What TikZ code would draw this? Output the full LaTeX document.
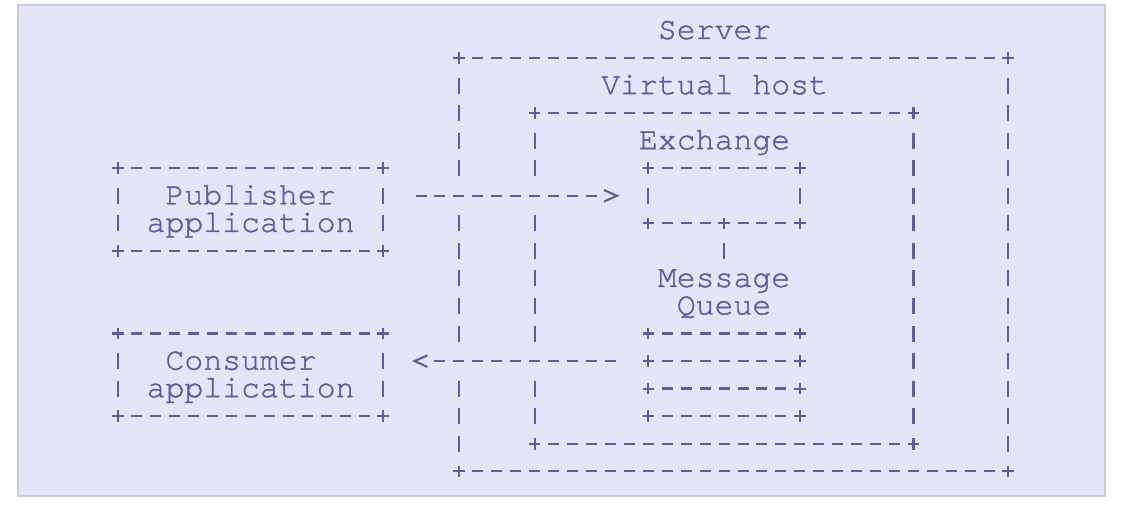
\documentclass[tikz,border=0pt]{standalone}
\usepackage{fontspec}
\newfontfamily\curfont[FakeBold=1.2]{TeX Gyre Cursor}
\usetikzlibrary{calc}
\definecolor{ink}{RGB}{92,92,165}
\definecolor{panel}{RGB}{229,229,250}
\definecolor{panelrule}{RGB}{205,205,218}
\newcommand\vbars[3]{\draw[vseg] ({gx(#1)},{gy(#2)-8}) -- ({gx(#1)},{gy(#3)+8});}
\newcommand\crossat[2]{\pic at ({gx(#1)},{gy(#2)}) {pluspic};}
\begin{document}
\begin{tikzpicture}[x=1bp,y=-1bp,
  declare function={gx(\x)=118+18.94*\x; gy(\x)=30.5+27.55*\x;},
  hseg/.style={draw=ink, line width=2.3bp, dash pattern=on 11bp off 7.94bp},
  vseg/.style={draw=ink, line width=2.3bp, dash pattern=on 16bp off 11.55bp},
  hline/.style={hseg, shorten <=13.44bp, shorten >=13.44bp},
  vline/.style={vseg, shorten <=19.55bp, shorten >=19.55bp},
  chev/.style={draw=ink, line width=2.1bp, line join=miter},
  pluspic/.pic={\draw[ink, line width=2.1bp] (-5.8,0) -- (5.8,0) (0,-5.8) -- (0,5.8);},
  boxn/.style={rectangle, inner sep=0pt, outer sep=0pt, draw=none},
  lbl/.style={anchor=base, inner sep=0pt, text height=17bp, text depth=4bp, text=ink, font=\curfont\fontsize{31.5bp}{35bp}\selectfont},
]
\useasboundingbox (0,0) rectangle (1132,510);
\draw[panelrule, fill=panel, line width=1.2bp] (18,5) rectangle (1105,496);

% ---- box nodes ----
\node[boxn, minimum width=549.26bp, minimum height=413.25bp] (server) at ({gx(32.5)},{gy(8.5)}) {};
\node[boxn, minimum width=378.8bp, minimum height=330.6bp] (vhost) at ({gx(32)},{gy(9)}) {};
\node[boxn, minimum width=151.52bp, minimum height=55.1bp] (exch) at ({gx(32)},{gy(6)}) {};
\node[boxn, minimum width=151.52bp, minimum height=82.65bp] (queue) at ({gx(32)},{gy(12.5)}) {};
\node[boxn, minimum width=265.16bp, minimum height=82.65bp] (pub) at ({gx(7)},{gy(6.5)}) {};
\node[boxn, minimum width=265.16bp, minimum height=82.65bp] (cons) at ({gx(7)},{gy(12.5)}) {};

% ---- labels ----
\node[lbl] (tserver) at ({gx(31.5)},{gy(0)+8.5}) {Server};
\node[lbl] (tvhost) at ({gx(31.5)},{gy(2)+8.5}) {Virtual host};
\node[lbl] (texch) at ({gx(31.5)},{gy(4)+8.5}) {Exchange};
\node[lbl] (tmsg) at ({gx(32)},{gy(9)+8.5}) {Message};
\node[lbl] (tqueue) at ({gx(32)},{gy(10)+8.5}) {Queue};
\node[lbl] (tpub) at ({gx(7)},{gy(6)+8.5}) {Publisher};
\node[lbl] (tpubapp) at ({gx(7)},{gy(7)+8.5}) {application};
\node[lbl] (tcons) at ({gx(6.5)},{gy(12)+8.5}) {Consumer};
\node[lbl] (tconsapp) at ({gx(7)},{gy(13)+8.5}) {application};

% ---- server box ----
\draw[hline] (server.north west) -- (server.north east);
\draw[hline] (server.south west) -- (server.south east);
\draw[vline] (server.north east) -- (server.south east);
\vbars{18}{2}{5}
\vbars{18}{7}{11}
\vbars{18}{13}{15}
\pic at (server.north west) {pluspic};
\pic at (server.north east) {pluspic};
\pic at (server.south west) {pluspic};
\pic at (server.south east) {pluspic};

% ---- virtual host box ----
\draw[hline] (vhost.north west) -- (vhost.north east);
\draw[hline] (vhost.south west) -- (vhost.south east);
\draw[vline] (vhost.north east) -- (vhost.south east);
\vbars{22}{4}{5}
\vbars{22}{7}{11}
\vbars{22}{13}{14}
\pic at (vhost.north west) {pluspic};
\pic at (vhost.north east) {pluspic};
\pic at (vhost.south west) {pluspic};
\pic at (vhost.south east) {pluspic};

% ---- exchange ----
\draw[hline] (exch.north west) -- (exch.north east);
\draw[hline] (exch.south west) -- (exch.south);
\draw[hline] (exch.south) -- (exch.south east);
\draw[vline] (exch.north west) -- (exch.south west);
\draw[vline] (exch.north east) -- (exch.south east);
\pic at (exch.north west) {pluspic};
\pic at (exch.north east) {pluspic};
\pic at (exch.south west) {pluspic};
\pic at (exch.south) {pluspic};
\pic at (exch.south east) {pluspic};

% ---- queue stack ----
\draw[hline] (queue.north west) -- (queue.north east);
\draw[hline] ($(queue.north west)+(0,27.55)$) -- ($(queue.north east)+(0,27.55)$);
\draw[hline] ($(queue.north west)+(0,55.1)$) -- ($(queue.north east)+(0,55.1)$);
\draw[hline] (queue.south west) -- (queue.south east);
\crossat{28}{11}\crossat{36}{11}
\crossat{28}{12}\crossat{36}{12}
\crossat{28}{13}\crossat{36}{13}
\crossat{28}{14}\crossat{36}{14}

% ---- publisher / consumer boxes ----
\foreach \b in {pub,cons}{
  \draw[hline] (\b.north west) -- (\b.north east);
  \draw[hline] (\b.south west) -- (\b.south east);
  \draw[vline] (\b.north west) -- (\b.south west);
  \draw[vline] (\b.north east) -- (\b.south east);
  \pic at (\b.north west) {pluspic};
  \pic at (\b.north east) {pluspic};
  \pic at (\b.south west) {pluspic};
  \pic at (\b.south east) {pluspic};
}

% ---- connectors ----
% publisher -> exchange
\draw[hseg, shorten <=32.38bp, shorten >=51.32bp] (pub.east |- exch.west) -- (exch.west);
\draw[chev] ($(exch.west)+(-44.38,-5.8)$) -- ($(exch.west)+(-31.38,0)$) -- ($(exch.west)+(-44.38,5.8)$);
% exchange -> queue
\draw[vseg, shorten <=19.55bp, shorten >=74.65bp] (exch.south) -- (queue.north);
% queue -> consumer
\coordinate (qa) at ($(queue.north west)+(0,27.55)$);
\draw[hseg, shorten <=32.38bp, shorten >=51.32bp] (qa) -- (cons.east |- qa);
\draw[chev] ($(cons.east |- qa)+(44.38,-5.8)$) -- ($(cons.east |- qa)+(31.38,0)$) -- ($(cons.east |- qa)+(44.38,5.8)$);
\end{tikzpicture}
\end{document}
